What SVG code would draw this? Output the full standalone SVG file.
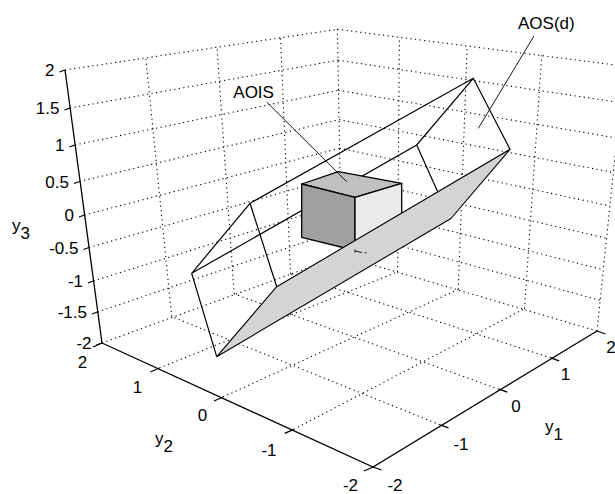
<svg xmlns="http://www.w3.org/2000/svg" width="615" height="494" viewBox="0 0 615 494">
<style>
.grid{fill:none;stroke:#000;stroke-width:1.1;stroke-dasharray:1.2 3.4}
.axis{fill:none;stroke:#000;stroke-width:1.3}
.edge{fill:none;stroke:#000;stroke-width:1.2}
.lead{fill:none;stroke:#000;stroke-width:0.9}
text{font-family:"Liberation Sans",Arial,sans-serif;font-size:17px;fill:#000}
.tz{text-anchor:end}
.tm{text-anchor:middle}
</style>
<rect width="615" height="494" fill="#fff"/>
<g id="grid">
<path class="grid" d="M440,424.8L171.7,316.6M498.8,389.2L234.2,294M550.7,357.8L290.5,273.9M597,331L341.5,255.6M159.4,368L397.6,271.8M223,397L458.3,289.4M293.7,429.3L524.5,308.7M102,343L341.5,255.6"/>
<path class="grid" d="M341.5,255.6L337.4,29.3M397.6,271.8L399.4,37.2M458.3,289.4L467.2,45.7M524.5,308.7L541.8,55.4M597,331L624.3,66.2M341.1,229.8L599.9,300.2M340.6,203.2L603.1,269.7M340.1,176L606.3,238.2M339.6,148.2L609.7,205.9M339.1,119.6L613.2,172.5M338.5,90.3L616.8,138.1M338,60.2L620.5,102.7M337.4,29.3L624.3,66.2"/>
<path class="grid" d="M171.7,316.6L145.7,56.8M234.2,294L216.9,46.4M290.5,273.9L280.5,37.4M97.5,312L341.1,229.8M93.5,281L340.6,203.2M89,247.5L340.1,176M84.5,215L339.6,148.2M79.5,181.5L339.1,119.6M75,145L338.5,90.3M70,108L338,60.2M65,70L337.4,29.3"/>
</g>
<g id="axes">
<path class="axis" d="M102,343L65,70M102,343L373,467L597,331"/>
<path class="axis" d="M65,70l-5.6,2M70,108l-5.6,2M75,145l-5.6,2M79.5,181.5l-5.6,2M84.5,215l-5.6,2M89,247.5l-5.6,2M93.5,281l-5.6,2M97.5,312l-5.6,2M102,343l-5.6,2"/>
<path class="axis" d="M102,343l-9,4M159.4,368l-9,4M223,397l-9,4M293.7,429.3l-9,4M373,467l-9,4"/>
<path class="axis" d="M373,467l8.5,3M440,424.8l8.5,3M498.8,389.2l8.5,3M550.7,357.8l8.5,3M597,331l8.5,3"/>
</g>
<g id="ticklabels">
<text class="tz" x="54.5" y="76">2</text>
<text class="tz" x="59.5" y="114">1.5</text>
<text class="tz" x="64.5" y="151">1</text>
<text class="tz" x="69" y="187.5">0.5</text>
<text class="tz" x="74" y="221">0</text>
<text class="tz" x="78.5" y="253.5">-0.5</text>
<text class="tz" x="83" y="287">-1</text>
<text class="tz" x="87" y="318">-1.5</text>
<text class="tz" x="91.5" y="349">-2</text>
<text class="tm" x="82.5" y="367.5">2</text>
<text class="tm" x="137.5" y="392.5">1</text>
<text class="tm" x="202.5" y="421">0</text>
<text class="tm" x="269" y="456">-1</text>
<text class="tm" x="350.5" y="491">-2</text>
<text class="tm" x="395" y="491">-2</text>
<text class="tm" x="461" y="449.5">-1</text>
<text class="tm" x="516" y="412">0</text>
<text class="tm" x="565.5" y="379.5">1</text>
<text class="tm" x="611" y="352.5">2</text>
<text x="12" y="231">y<tspan dy="8">3</tspan></text>
<text x="155" y="444">y<tspan dy="8">2</tspan></text>
<text x="545" y="432">y<tspan dy="8">1</tspan></text>
</g>
<g id="aosd-box">
<path class="edge" d="M250,203.3L473.3,78.3L510,149.3M250,203.3L191.7,273.3L216.7,356.7M250,203.3L276.7,286.7M191.7,273.3L416.7,145L473.3,78.3M416.7,145L450,219.3"/>
</g>
<g id="aois-cube">
<polygon points="301.7,184 338.3,171.7 401.7,183.3 355,197.3" fill="#c0c0c0" stroke="#000" stroke-width="1.3" stroke-linejoin="round"/>
<polygon points="301.7,184 355,197.3 355,250.5 301.7,237.3" fill="#a0a0a0" stroke="#000" stroke-width="1.3" stroke-linejoin="round"/>
<polygon points="355,197.3 401.7,183.3 401.7,236.5 355,250.5" fill="#ebebeb" stroke="#000" stroke-width="1.3" stroke-linejoin="round"/>
</g>
<g id="aosd-plane">
<polygon points="216.7,356.7 276.7,286.7 510,149.3 451,218.5" fill="#d4d4d4" stroke="#000" stroke-width="1.1" stroke-linejoin="round"/>
<path d="M355,249.5v3M355,251L362,252.5M364.5,252.8h2" fill="none" stroke="#222" stroke-width="1"/>
</g>
<g id="labels">
<path class="lead" d="M266.7,102L346.7,181.7M534,36L478.3,128.3"/>
<text x="233.3" y="98">AOIS</text>
<text x="518" y="29">AOS(d)</text>
</g>
</svg>
